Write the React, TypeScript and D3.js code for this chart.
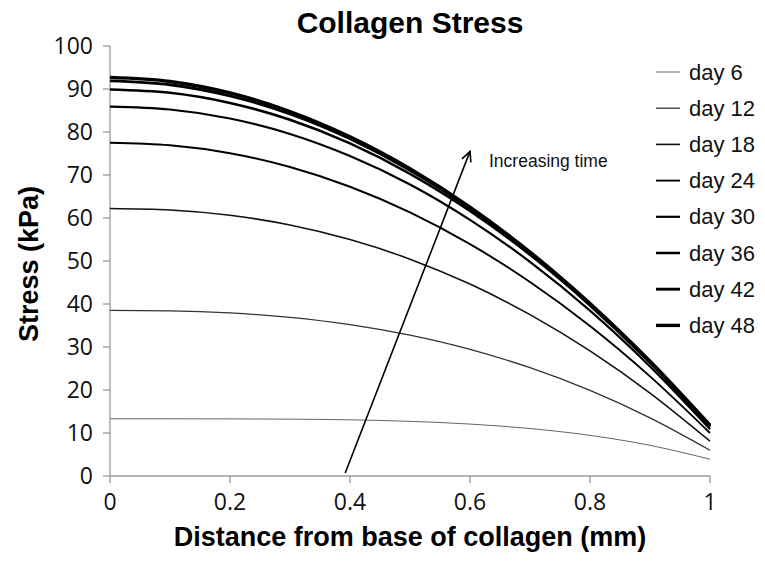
import React from "react";
import * as d3 from "d3";

const xs = [0, 0.1, 0.2, 0.3, 0.4, 0.5, 0.6, 0.7, 0.8, 0.9, 1.0];
const seriesNames = ["day 6", "day 12", "day 18", "day 24", "day 30", "day 36", "day 42", "day 48"];
const day6 = [13.3, 13.3, 13.28, 13.22, 13.06, 12.71, 12.08, 11.04, 9.45, 7.13, 3.9];
const day12 = [38.5, 38.4, 37.92, 36.9, 35.21, 32.75, 29.44, 25.18, 19.9, 13.53, 6.0];
const day18 = [62.2, 61.86, 60.63, 58.38, 54.99, 50.43, 44.63, 37.52, 29.09, 19.29, 8.1];
const day24 = [77.5, 76.91, 75.06, 71.86, 67.27, 61.31, 53.92, 45.12, 34.89, 23.17, 10.0];
const day30 = [85.9, 85.23, 83.13, 79.54, 74.41, 67.79, 59.57, 49.8, 38.46, 25.48, 10.9];
const day36 = [89.9, 89.12, 86.76, 82.84, 77.34, 70.28, 61.64, 51.44, 39.66, 26.32, 11.4];
const day42 = [91.9, 91.0, 88.41, 84.22, 78.43, 71.12, 62.24, 51.85, 39.93, 26.52, 11.6];
const day48 = [92.7, 91.75, 89.08, 84.77, 78.89, 71.47, 62.54, 52.09, 40.12, 26.68, 11.8];
const seriesValues = [day6, day12, day18, day24, day30, day36, day42, day48];
const strokeWidths = [1, 1.3, 1.6, 1.9, 2.2, 2.5, 2.9, 3.4];
const strokeColors = ["#666", "#333", "#111", "#000", "#000", "#000", "#000", "#000"];
const xTicks = [0, 0.2, 0.4, 0.6, 0.8, 1];
const yTicks = [0, 10, 20, 30, 40, 50, 60, 70, 80, 90, 100];
const arrowStart = [0.392, 0.7];
const arrowEnd = [0.6, 75.5];
const arrowLabel = "Increasing time";

export default function App() {
  const W = 765, H = 561;
  const left = 110, right = 710, top = 46, bottom = 476;
  const x = d3.scaleLinear().domain([0, 1]).range([left, right]);
  const y = d3.scaleLinear().domain([0, 100]).range([bottom, top]);
  const line = d3.line<number>().x((_, i) => x(xs[i])).y((d) => y(d)).curve(d3.curveMonotoneX);
  const axisColor = "#9a9a9a";
  const tickFont = "'Open Sans', 'Liberation Sans', sans-serif";
  const boldFont = "'Liberation Sans', Arial, sans-serif";

  const ax0 = x(arrowStart[0]), ay0 = y(arrowStart[1]);
  const ax1 = x(arrowEnd[0]), ay1 = y(arrowEnd[1]);
  const ang = Math.atan2(ay1 - ay0, ax1 - ax0);
  const hl = 11, ha = 0.45;
  const h1 = [ax1 - hl * Math.cos(ang - ha), ay1 - hl * Math.sin(ang - ha)];
  const h2 = [ax1 - hl * Math.cos(ang + ha), ay1 - hl * Math.sin(ang + ha)];

  return (
    <svg width={W} height={H} style={{ position: "absolute", left: 0, top: 0, background: "#fff" }}>
      <rect x={0} y={0} width={W} height={H} fill="#fff" />
      <text x={410} y={33} textAnchor="middle" fontFamily={boldFont} fontWeight="bold" fontSize={30}>
        Collagen Stress
      </text>
      {/* axes */}
      <line x1={left} x2={left} y1={top} y2={bottom} stroke={axisColor} strokeWidth={1.3} />
      <line x1={left} x2={right} y1={bottom} y2={bottom} stroke={axisColor} strokeWidth={1.3} />
      {yTicks.map((t) => (
        <g key={"y" + t}>
          <line x1={left - 7} x2={left} y1={y(t)} y2={y(t)} stroke={axisColor} strokeWidth={1.3} />
          <text x={93} y={y(t) + 8} textAnchor="end" fontFamily={tickFont} fontSize={23} fill="#111">
            {t}
          </text>
        </g>
      ))}
      {xTicks.map((t) => (
        <g key={"x" + t}>
          <line x1={x(t)} x2={x(t)} y1={bottom} y2={bottom + 7} stroke={axisColor} strokeWidth={1.3} />
          <text x={x(t)} y={510} textAnchor="middle" fontFamily={tickFont} fontSize={23} fill="#111">
            {t}
          </text>
        </g>
      ))}
      <text x={410} y={546} textAnchor="middle" fontFamily={boldFont} fontWeight="bold" fontSize={27}>
        Distance from base of collagen (mm)
      </text>
      <text
        transform={`translate(38, 264) rotate(-90)`}
        textAnchor="middle"
        fontFamily={boldFont}
        fontWeight="bold"
        fontSize={27}
      >
        Stress (kPa)
      </text>
      {/* series */}
      {seriesValues.map((vals, i) => (
        <path key={seriesNames[i]} d={line(vals) || ""} fill="none" stroke={strokeColors[i]} strokeWidth={strokeWidths[i]} />
      ))}
      {/* arrow */}
      <line x1={ax0} y1={ay0} x2={ax1} y2={ay1} stroke="#000" strokeWidth={1.6} />
      <polyline points={`${h1[0]},${h1[1]} ${ax1},${ay1} ${h2[0]},${h2[1]}`} fill="none" stroke="#000" strokeWidth={1.6} />
      <text x={489} y={167} fontFamily={boldFont} fontSize={17.5} fill="#111">
        {arrowLabel}
      </text>
      {/* legend */}
      {seriesNames.map((n, i) => {
        const ly = 72 + i * 36.2;
        return (
          <g key={"lg" + n}>
            <line x1={656} x2={680} y1={ly} y2={ly} stroke={strokeColors[i]} strokeWidth={strokeWidths[i]} />
            <text x={689} y={ly + 7.5} fontFamily={boldFont} fontSize={22} fill="#111">
              {n}
            </text>
          </g>
        );
      })}
    </svg>
  );
}
